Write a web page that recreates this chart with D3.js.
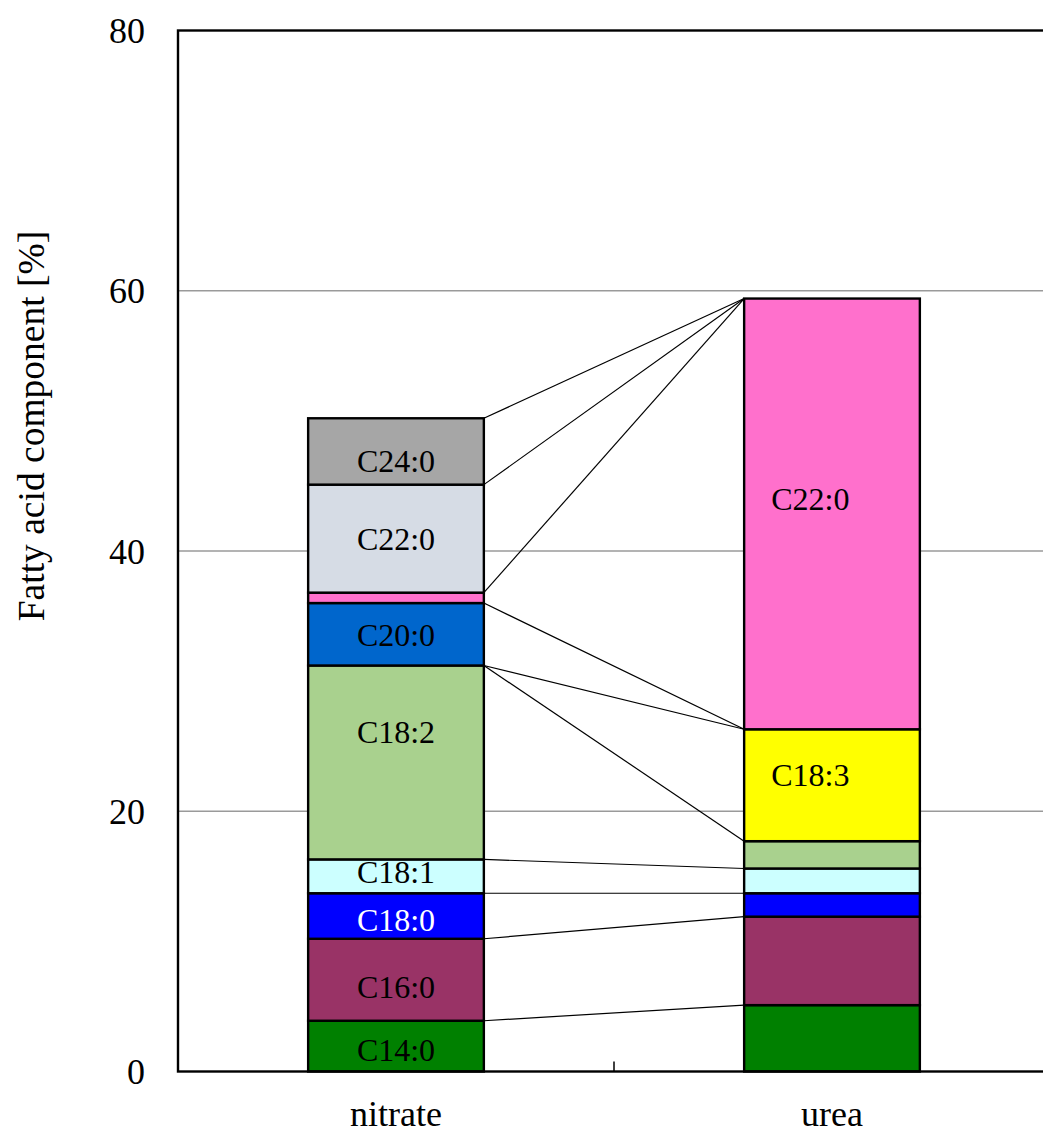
<!DOCTYPE html>
<html>
<head>
<meta charset="utf-8">
<script src="https://cdn.jsdelivr.net/npm/d3@7"></script>
<style>
  html, body { margin: 0; padding: 0; background: #fff; }
  svg { display: block; font-family: "Liberation Serif", "Times New Roman", serif; }
</style>
</head>
<body>
<svg id="chart" width="1043" height="1135"></svg>
<script>
// Nitrogen sources (bars)
const categories = ["nitrate", "urea"];

// Stack order, bottom to top
const seriesKeys = ["C14:0", "C16:0", "C18:0", "C18:1", "C18:2", "C18:3", "C20:0", "C22:0p", "C22:0", "C24:0"];

// Fatty acid composition [%] per source, in seriesKeys order
const nitrateValues = [3.9, 6.3, 3.5, 2.6, 14.9, 0, 4.8, 0.8, 8.3, 5.1];
const ureaValues    = [5.1, 6.8, 1.8, 1.9, 2.1, 8.6, 0, 33.1, 0, 0];

// Y-axis ticks
const yTicks = [0, 20, 40, 60, 80];

// Segment fills
const colors = {
  "C14:0": "#008000",
  "C16:0": "#993366",
  "C18:0": "#0000ff",
  "C18:1": "#ccffff",
  "C18:2": "#a9d18e",
  "C18:3": "#ffff00",
  "C20:0": "#0066cc",
  "C22:0p": "#ff70cc",
  "C22:0": "#d6dce5",
  "C24:0": "#a6a6a6"
};

// In-bar labels: [category, series key, text, x nudge (px, null = centred), y nudge (px), colour]
const segmentLabels = [
  ["nitrate", "C14:0", "C14:0", null, 4, "#000"],
  ["nitrate", "C16:0", "C16:0", null, 7, "#000"],
  ["nitrate", "C18:0", "C18:0", null, 4, "#fff"],
  ["nitrate", "C18:1", "C18:1", null, -5, "#000"],
  ["nitrate", "C18:2", "C18:2", null, -31, "#000"],
  ["nitrate", "C20:0", "C20:0", null, 1, "#000"],
  ["nitrate", "C22:0", "C22:0", null, 0, "#000"],
  ["nitrate", "C24:0", "C24:0", null, 9, "#000"],
  ["urea", "C18:3", "C18:3", 27, -10, "#000"],
  ["urea", "C22:0p", "C22:0", 27, -15, "#000"]
];

const rows = categories.map((c, i) => {
  const vals = i === 0 ? nitrateValues : ureaValues;
  const r = { category: c };
  seriesKeys.forEach((k, j) => { r[k] = vals[j]; });
  return r;
});

const svg = d3.select("#chart");
const margin = { left: 178, top: 30.5, right: 1050, bottom: 1071.5 };

const x = d3.scaleBand().domain(categories).range([margin.left, margin.right]).paddingInner(0).paddingOuter(0);
const y = d3.scaleLinear().domain([0, 80]).range([margin.bottom, margin.top]);
const barW = x.bandwidth() * 0.403;
const barX = c => x(c) + x.bandwidth() / 2 - barW / 2;

const stacked = d3.stack().keys(seriesKeys)(rows);

// Horizontal grid lines
svg.append("g")
  .selectAll("line")
  .data(yTicks.filter(t => t > 0 && t < 80))
  .join("line")
  .attr("x1", margin.left).attr("x2", margin.right)
  .attr("y1", d => y(d)).attr("y2", d => y(d))
  .attr("stroke", "#9a9a9a").attr("stroke-width", 1.5);

// Connector lines between cumulative tops of each series
const conn = svg.append("g");
stacked.forEach(s => {
  conn.append("line")
    .attr("x1", barX("nitrate") + barW).attr("y1", y(s[0][1]))
    .attr("x2", barX("urea")).attr("y2", y(s[1][1]))
    .attr("stroke", "#000").attr("stroke-width", 1.2);
});

// Stacked bars
svg.append("g")
  .selectAll("g")
  .data(stacked)
  .join("g")
  .attr("fill", d => colors[d.key])
  .selectAll("rect")
  .data(d => d.filter(p => p[1] - p[0] > 0))
  .join("rect")
  .attr("x", d => barX(d.data.category))
  .attr("width", barW)
  .attr("y", d => y(d[1]))
  .attr("height", d => y(d[0]) - y(d[1]))
  .attr("stroke", "#000").attr("stroke-width", 2.4);

// Segment labels
const labelG = svg.append("g").attr("font-size", 32);
segmentLabels.forEach(([cat, key, text, dx, dy, col]) => {
  const s = stacked.find(d => d.key === key);
  const p = s[categories.indexOf(cat)];
  const cy = (y(p[0]) + y(p[1])) / 2 + dy;
  const t = labelG.append("text")
    .attr("y", cy).attr("dy", "0.35em")
    .attr("fill", col).text(text);
  if (dx === null) {
    t.attr("x", barX(cat) + barW / 2).attr("text-anchor", "middle");
  } else {
    t.attr("x", barX(cat) + dx).attr("text-anchor", "start");
  }
});

// Plot frame
svg.append("rect")
  .attr("x", margin.left).attr("y", margin.top)
  .attr("width", margin.right - margin.left).attr("height", margin.bottom - margin.top)
  .attr("fill", "none").attr("stroke", "#000").attr("stroke-width", 2.4);

// Y axis labels
svg.append("g")
  .selectAll("text")
  .data(yTicks)
  .join("text")
  .attr("x", 145).attr("y", d => y(d)).attr("dy", "0.35em")
  .attr("text-anchor", "end").attr("font-size", 36)
  .text(d => d);

// Category tick between bands
svg.append("line")
  .attr("x1", x("urea")).attr("x2", x("urea"))
  .attr("y1", margin.bottom).attr("y2", margin.bottom - 10)
  .attr("stroke", "#000").attr("stroke-width", 1.5);

// Category labels
svg.append("g")
  .selectAll("text")
  .data(categories)
  .join("text")
  .attr("x", d => x(d) + x.bandwidth() / 2).attr("y", 1126)
  .attr("text-anchor", "middle").attr("font-size", 36)
  .text(d => d);

// Y axis title
svg.append("text")
  .attr("transform", "translate(44,426) rotate(-90)")
  .attr("text-anchor", "middle").attr("font-size", 37.5)
  .text("Fatty acid component [%]");
</script>
</body>
</html>
